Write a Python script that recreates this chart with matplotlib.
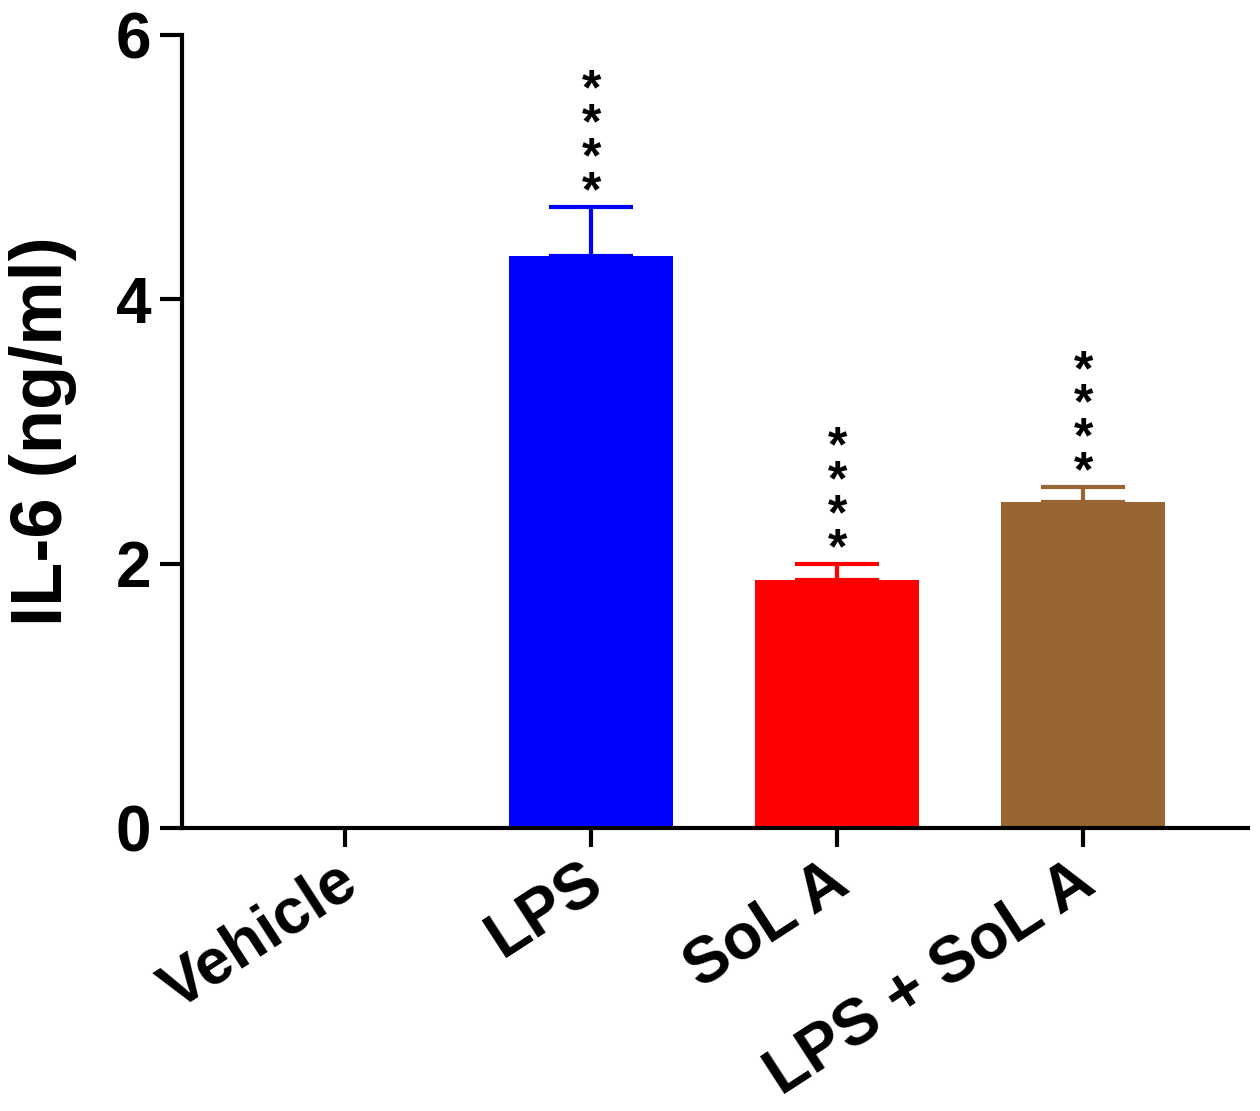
import matplotlib
matplotlib.use('Agg')
import matplotlib.pyplot as plt
import matplotlib.transforms as mtrans
import numpy as np

# data
groups = ['Vehicle', 'LPS', 'SoL A', 'LPS + SoL A']
il6 = [0.0, 4.33, 1.88, 2.47]
sem = [0.0, 0.37, 0.12, 0.11]
stars = ['', '****', '****', '****']
colors = ['#000000', '#0000FF', '#FF0000', '#996633']

plt.rcParams['font.family'] = ['Liberation Sans', 'DejaVu Sans']
plt.rcParams['font.weight'] = 'bold'

fig = plt.figure(figsize=(12.6, 11.11), dpi=100)
ax = fig.add_axes([0.1444, 0.2547, 0.8461, 0.7138])

x = np.arange(len(groups))
ax.bar(x, il6, width=0.667, color=colors, zorder=2)
for xi, v, e, c in zip(x, il6, sem, colors):
    if v > 0:
        ax.errorbar(xi, v, yerr=[[0], [e]], fmt='none', ecolor=c,
                    elinewidth=3, capsize=30, capthick=3, zorder=1)

for xi, v, e, s in zip(x, il6, sem, stars):
    if s:
        ax.text(xi, v + e - 0.07, '\n'.join(s), ha='center', va='bottom',
                fontsize=36, linespacing=0.66, fontweight='bold')

ax.set_xlim(-0.663, 3.67)
ax.set_ylim(0, 6)
ax.set_yticks([0, 2, 4, 6])
ax.set_xticks(x)
ax.set_xticklabels(groups, rotation=33, ha='right', rotation_mode='anchor',
                   fontsize=46, fontweight='bold')
ax.tick_params(axis='y', labelsize=46, width=3, length=16, pad=6)
ax.tick_params(axis='x', width=3, length=14, pad=3)
for lbl in ax.get_yticklabels():
    lbl.set_fontweight('bold')
shift = mtrans.ScaledTranslation(-10 / 100, 0, fig.dpi_scale_trans)
for lbl in ax.get_xticklabels():
    lbl.set_transform(lbl.get_transform() + shift)

ax.spines['top'].set_visible(False)
ax.spines['right'].set_visible(False)
ax.spines['left'].set_linewidth(3)
ax.spines['bottom'].set_linewidth(3)

ax.set_ylabel('IL-6 (ng/ml)', fontsize=52, fontweight='bold')
ax.yaxis.set_label_coords(-0.098, 0.5)

fig.savefig('out.png', dpi=100)
